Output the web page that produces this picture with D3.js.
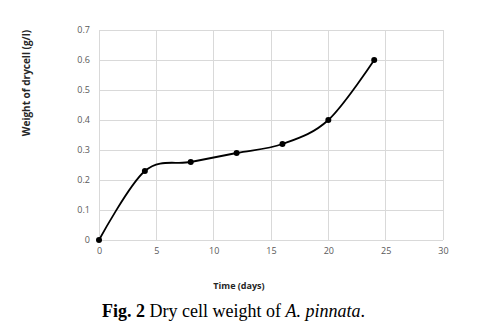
<!DOCTYPE html>
<html>
<head>
<meta charset="utf-8">
<script src="https://cdn.jsdelivr.net/npm/d3@7"></script>
<style>
  body { margin: 0; background: #fff; }
  svg { display: block; }
</style>
</head>
<body>
<div id="plot"><svg width="490" height="330"></svg></div>
<script>
// data
const days = [0, 4, 8, 12, 16, 20, 24];
const weight = [0, 0.23, 0.26, 0.29, 0.32, 0.40, 0.60];
const xTicks = [0, 5, 10, 15, 20, 25, 30];
const yTicks = [0, 0.1, 0.2, 0.3, 0.4, 0.5, 0.6, 0.7];

const points = days.map((d, i) => ({ day: d, w: weight[i] }));

const width = 490;
const height = 330;
const margin = { top: 30, right: 47, bottom: 90, left: 99 };

const svg = d3.select("div#plot svg");
const x = d3.scaleLinear().domain([0, 30]).range([margin.left, width - margin.right]);
const y = d3.scaleLinear().domain([0, 0.7]).range([height - margin.bottom, margin.top]);

const tickFont = "'Open Sans', sans-serif";

// grid
svg.append("g")
  .selectAll("line")
  .data(yTicks)
  .join("line")
  .attr("x1", x(0)).attr("x2", x(30))
  .attr("y1", d => y(d)).attr("y2", d => y(d))
  .attr("stroke", "#d9d9d9").attr("stroke-width", 1)
  .attr("shape-rendering", "crispEdges");

svg.append("g")
  .selectAll("line")
  .data(xTicks)
  .join("line")
  .attr("x1", d => x(d)).attr("x2", d => x(d))
  .attr("y1", y(0)).attr("y2", y(0.7))
  .attr("stroke", "#d9d9d9").attr("stroke-width", 1)
  .attr("shape-rendering", "crispEdges");

// axes (labels only, lines are the grid)
const xAxis = svg.append("g")
  .attr("transform", `translate(0,${y(0)})`)
  .call(d3.axisBottom(x).tickValues(xTicks).tickSize(0).tickPadding(8).tickFormat(d3.format("d")));
const yAxis = svg.append("g")
  .attr("transform", `translate(${x(0)},0)`)
  .call(d3.axisLeft(y).tickValues(yTicks).tickSize(0).tickPadding(9).tickFormat(d => d === 0 ? "0" : d3.format(".1f")(d)));

[xAxis, yAxis].forEach(g => {
  g.select(".domain").remove();
  g.selectAll("text")
    .attr("fill", "#595959")
    .style("font-family", tickFont)
    .style("font-size", "9px");
});

// smoothed line like Excel
const line = d3.line()
  .x(d => x(d.day))
  .y(d => y(d.w))
  .curve(d3.curveCardinal.tension(0));

svg.append("path")
  .datum(points)
  .attr("d", line)
  .attr("fill", "none")
  .attr("stroke", "#000")
  .attr("stroke-width", 1.8);

svg.append("g")
  .selectAll("circle")
  .data(points)
  .join("circle")
  .attr("cx", d => x(d.day))
  .attr("cy", d => y(d.w))
  .attr("r", 3)
  .attr("fill", "#000");

// axis titles
svg.append("text")
  .attr("transform", "translate(30,83) rotate(-90)")
  .attr("text-anchor", "middle")
  .style("font-family", tickFont)
  .style("font-size", "10px")
  .style("font-weight", "bold")
  .attr("fill", "#262626")
  .text("Weight of drycell (g/l)");

svg.append("text")
  .attr("x", 239)
  .attr("y", 289)
  .attr("text-anchor", "middle")
  .style("font-family", tickFont)
  .style("font-size", "9px")
  .style("font-weight", "bold")
  .attr("fill", "#262626")
  .text("Time (days)");

// caption
const cap = svg.append("text")
  .attr("x", 102)
  .attr("y", 317)
  .style("font-family", "'Liberation Serif', serif")
  .style("font-size", "18px")
  .attr("fill", "#000");
cap.append("tspan").style("font-weight", "bold").text("Fig. 2");
cap.append("tspan").text(" Dry cell weight of ");
cap.append("tspan").style("font-style", "italic").text("A. pinnata");
cap.append("tspan").text(".");
</script>
</body>
</html>
